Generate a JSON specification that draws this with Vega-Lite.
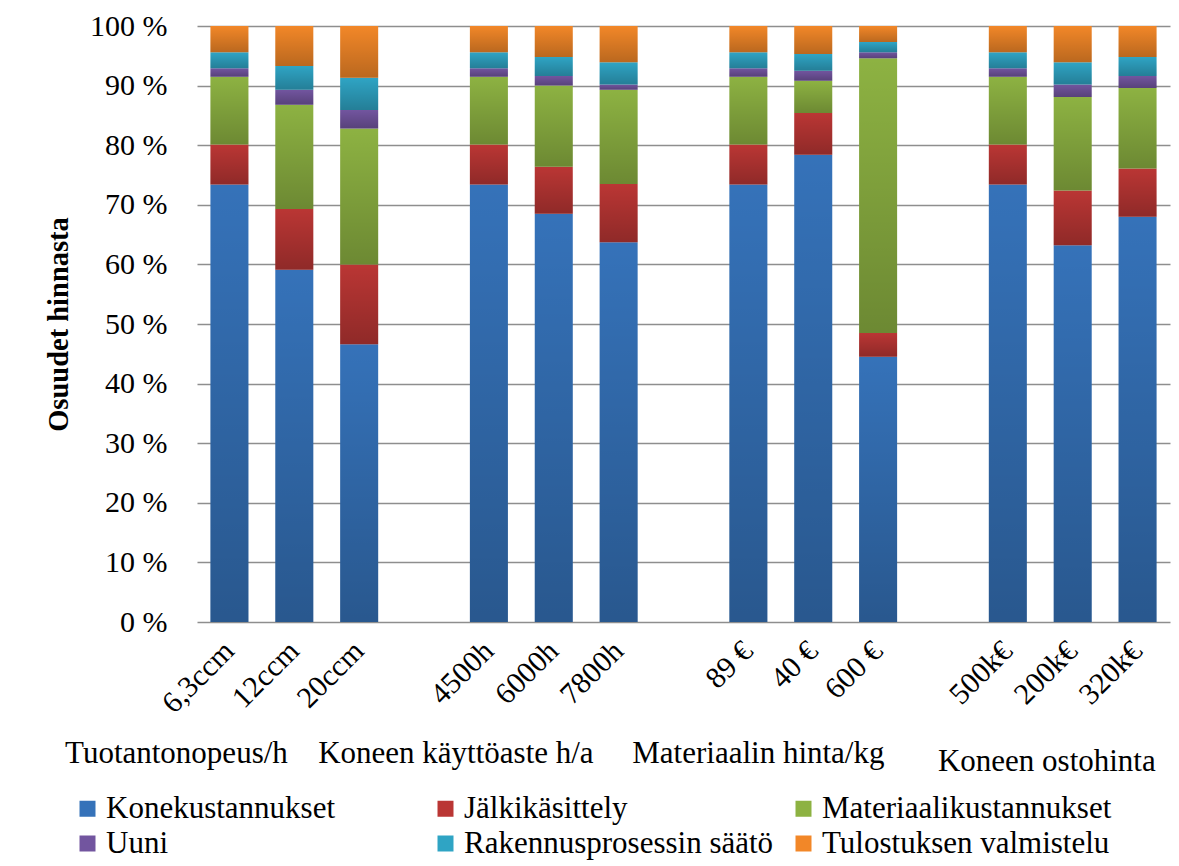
{
  "$schema": "https://vega.github.io/schema/vega-lite/v6.json",
  "width": 973,
  "height": 596,
  "autosize": {"type": "none"},
  "padding": {"left": 197, "top": 26, "right": 9, "bottom": 244},
  "background": "white",
  "config": {
    "view": {"stroke": null},
    "font": "Liberation Serif",
    "axis": {"labelFont": "Liberation Serif", "titleFont": "Liberation Serif", "labelColor": "#000", "titleColor": "#000"},
    "legend": {"labelFont": "Liberation Serif"},
    "text": {"font": "Liberation Serif"}
  },
  "datasets": {
    "costs": [
      {"vaihtoehto": "6,3ccm", "Konekustannukset": 73.4, "Jälkikäsittely": 6.7, "Materiaalikustannukset": 11.4, "Uuni": 1.4, "Rakennusprosessin säätö": 2.7, "Tulostuksen valmistelu": 4.4},
      {"vaihtoehto": "12ccm", "Konekustannukset": 59.1, "Jälkikäsittely": 10.2, "Materiaalikustannukset": 17.5, "Uuni": 2.5, "Rakennusprosessin säätö": 4.0, "Tulostuksen valmistelu": 6.7},
      {"vaihtoehto": "20ccm", "Konekustannukset": 46.6, "Jälkikäsittely": 13.4, "Materiaalikustannukset": 22.8, "Uuni": 3.1, "Rakennusprosessin säätö": 5.4, "Tulostuksen valmistelu": 8.7},
      {"vaihtoehto": "4500h", "Konekustannukset": 73.4, "Jälkikäsittely": 6.7, "Materiaalikustannukset": 11.4, "Uuni": 1.4, "Rakennusprosessin säätö": 2.7, "Tulostuksen valmistelu": 4.4},
      {"vaihtoehto": "6000h", "Konekustannukset": 68.5, "Jälkikäsittely": 7.9, "Materiaalikustannukset": 13.6, "Uuni": 1.6, "Rakennusprosessin säätö": 3.2, "Tulostuksen valmistelu": 5.2},
      {"vaihtoehto": "7800h", "Konekustannukset": 63.7, "Jälkikäsittely": 9.8, "Materiaalikustannukset": 15.8, "Uuni": 0.9, "Rakennusprosessin säätö": 3.7, "Tulostuksen valmistelu": 6.1},
      {"vaihtoehto": "89 €", "Konekustannukset": 73.4, "Jälkikäsittely": 6.7, "Materiaalikustannukset": 11.4, "Uuni": 1.4, "Rakennusprosessin säätö": 2.7, "Tulostuksen valmistelu": 4.4},
      {"vaihtoehto": "40 €", "Konekustannukset": 78.4, "Jälkikäsittely": 7.0, "Materiaalikustannukset": 5.4, "Uuni": 1.7, "Rakennusprosessin säätö": 2.8, "Tulostuksen valmistelu": 4.7},
      {"vaihtoehto": "600 €", "Konekustannukset": 44.5, "Jälkikäsittely": 4.0, "Materiaalikustannukset": 46.1, "Uuni": 1.0, "Rakennusprosessin säätö": 1.7, "Tulostuksen valmistelu": 2.7},
      {"vaihtoehto": "500k€", "Konekustannukset": 73.4, "Jälkikäsittely": 6.7, "Materiaalikustannukset": 11.4, "Uuni": 1.4, "Rakennusprosessin säätö": 2.7, "Tulostuksen valmistelu": 4.4},
      {"vaihtoehto": "200k€", "Konekustannukset": 63.2, "Jälkikäsittely": 9.2, "Materiaalikustannukset": 15.7, "Uuni": 2.1, "Rakennusprosessin säätö": 3.7, "Tulostuksen valmistelu": 6.1},
      {"vaihtoehto": "320k€", "Konekustannukset": 68.0, "Jälkikäsittely": 8.1, "Materiaalikustannukset": 13.5, "Uuni": 2.0, "Rakennusprosessin säätö": 3.2, "Tulostuksen valmistelu": 5.2}
    ],
    "groups": [
      {"ryhma": "Tuotantonopeus/h"},
      {"ryhma": "Koneen käyttöaste h/a"},
      {"ryhma": "Materiaalin hinta/kg"},
      {"ryhma": "Koneen ostohinta"}
    ]
  },
  "layer": [
    {
      "data": {"name": "costs"},
      "transform": [
        {"fold": ["Konekustannukset", "Jälkikäsittely", "Materiaalikustannukset", "Uuni", "Rakennusprosessin säätö", "Tulostuksen valmistelu"], "as": ["osa", "osuus"]},
        {"calculate": "indexof(['Konekustannukset','Jälkikäsittely','Materiaalikustannukset','Uuni','Rakennusprosessin säätö','Tulostuksen valmistelu'], datum.osa)", "as": "jarjestys"}
      ],
      "layer": [
        {
          "mark": {"type": "bar"},
          "encoding": {
            "x": {
              "field": "vaihtoehto",
              "type": "nominal",
              "scale": {
                "domain": ["6,3ccm", "12ccm", "20ccm", "gap1", "4500h", "6000h", "7800h", "gap2", "89 €", "40 €", "600 €", "gap3", "500k€", "200k€", "320k€"],
                "paddingInner": 0.414,
                "paddingOuter": 0.207
              },
              "axis": {
                "title": null,
                "domain": false,
                "ticks": false,
                "labelAngle": -45,
                "labelAlign": "right",
                "labelBaseline": "middle",
                "labelFontSize": 30,
                "labelPadding": 24,
                "labelExpr": "indexof(datum.label, 'gap') == 0 ? '' : datum.label"
              }
            },
            "y": {
              "field": "osuus",
              "type": "quantitative",
              "stack": "normalize",
              "scale": {"domain": [0, 1]},
              "axis": {
                "title": "Osuudet hinnasta",
                "titleFontSize": 28.5,
                "titleFontWeight": "bold",
                "titlePadding": 16,
                "values": [0, 0.1, 0.2, 0.3, 0.4, 0.5, 0.6, 0.7, 0.8, 0.9, 1],
                "labelExpr": "replace(format(datum.value, '.0%'), '%', ' %')",
                "labelFontSize": 30,
                "labelPadding": 30,
                "domain": false,
                "ticks": false,
                "grid": true,
                "gridColor": "#8e8e8e",
                "gridWidth": 1.6
              }
            },
            "color": {
              "field": "osa",
              "type": "nominal",
              "scale": {
                "domain": ["Konekustannukset", "Jälkikäsittely", "Materiaalikustannukset", "Uuni", "Rakennusprosessin säätö", "Tulostuksen valmistelu"],
                "range": ["#3572b9", "#ba3634", "#8db242", "#72559f", "#2fa4c4", "#f28728"]
              },
              "legend": {
                "title": null,
                "orient": "none",
                "legendX": -125,
                "legendY": 767,
                "direction": "horizontal",
                "columns": 3,
                "gridAlign": "all",
                "columnPadding": 14,
                "rowPadding": 3,
                "symbolType": "square",
                "symbolSize": 256,
                "symbolStrokeWidth": 0,
                "labelFontSize": 31,
                "labelOffset": 3,
                "labelLimit": 500,
                "labelColor": "#000"
              }
            },
            "order": {"field": "jarjestys", "type": "quantitative"}
          }
        },
        {
          "mark": {
            "type": "bar",
            "color": {
              "gradient": "linear",
              "x1": 0, "y1": 0, "x2": 0, "y2": 1,
              "stops": [
                {"offset": 0, "color": "rgba(0,0,0,0)"},
                {"offset": 1, "color": "rgba(0,0,0,0.23)"}
              ]
            }
          },
          "encoding": {
            "x": {"field": "vaihtoehto", "type": "nominal"},
            "y": {"field": "osuus", "type": "quantitative", "stack": "normalize"},
            "detail": {"field": "osa", "type": "nominal"},
            "order": {"field": "jarjestys", "type": "quantitative"}
          }
        }
      ]
    },
    {
      "data": {"name": "groups"},
      "transform": [{"filter": "datum.ryhma == 'Tuotantonopeus/h'"}],
      "mark": {"type": "text", "fontSize": 31, "color": "#000", "align": "center", "baseline": "middle", "dx": -53},
      "encoding": {"x": {"datum": "6,3ccm"}, "y": {"datum": -0.222}, "text": {"field": "ryhma"}}
    },
    {
      "data": {"name": "groups"},
      "transform": [{"filter": "datum.ryhma == 'Koneen käyttöaste h/a'"}],
      "mark": {"type": "text", "fontSize": 31, "color": "#000", "align": "center", "baseline": "middle", "dx": -33},
      "encoding": {"x": {"datum": "4500h"}, "y": {"datum": -0.222}, "text": {"field": "ryhma"}}
    },
    {
      "data": {"name": "groups"},
      "transform": [{"filter": "datum.ryhma == 'Materiaalin hinta/kg'"}],
      "mark": {"type": "text", "fontSize": 31, "color": "#000", "align": "center", "baseline": "middle", "dx": 10},
      "encoding": {"x": {"datum": "89 €"}, "y": {"datum": -0.222}, "text": {"field": "ryhma"}}
    },
    {
      "data": {"name": "groups"},
      "transform": [{"filter": "datum.ryhma == 'Koneen ostohinta'"}],
      "mark": {"type": "text", "fontSize": 31, "color": "#000", "align": "center", "baseline": "middle", "dx": 39},
      "encoding": {"x": {"datum": "500k€"}, "y": {"datum": -0.235}, "text": {"field": "ryhma"}}
    }
  ]
}
